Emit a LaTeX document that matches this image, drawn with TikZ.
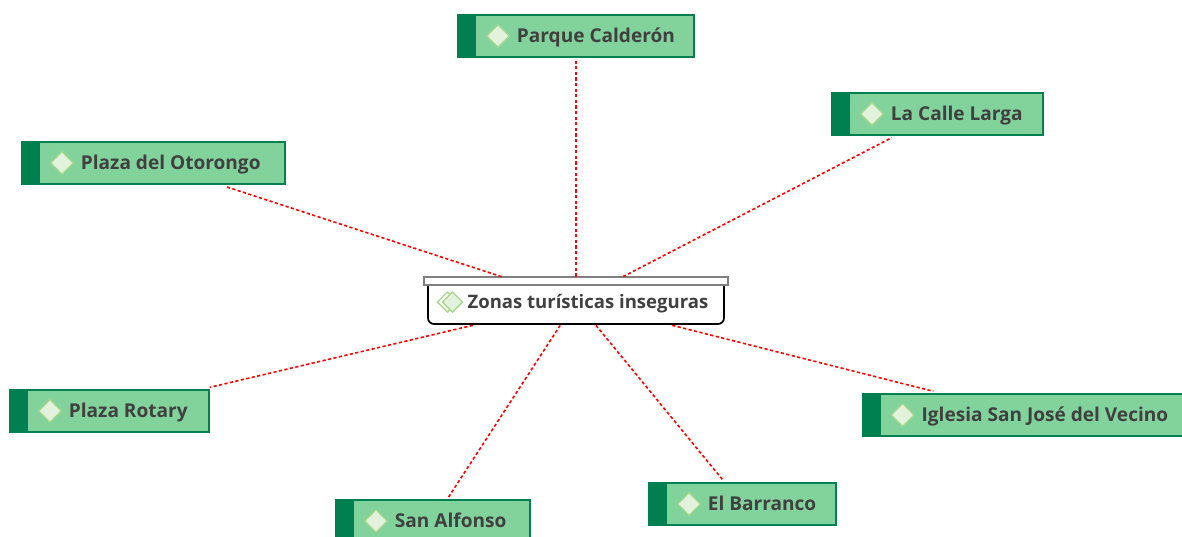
\documentclass[tikz,border=0pt]{standalone}
\usepackage{fontspec}
\setmainfont{Open Sans}
\usetikzlibrary{positioning, shapes.geometric}
\definecolor{topicfill}{RGB}{130,210,156}
\definecolor{topicdark}{RGB}{0,128,80}
\definecolor{markfill}{RGB}{226,242,220}
\definecolor{markline}{RGB}{168,214,140}
\definecolor{labeltext}{RGB}{64,64,64}
\tikzset{x=0.75pt, y=-0.75pt, node distance=46pt,
    topic/.style={draw=topicdark, line width=1.5pt, fill=topicfill, minimum height=31.5pt, inner sep=0pt, outer sep=2pt,
        path picture={\fill[topicdark] (path picture bounding box.north west) rectangle ([xshift=13.5pt]path picture bounding box.south west);
            \draw[markline, line width=0.9pt, fill=markfill] ([xshift=21.5pt]path picture bounding box.west) -- ([xshift=30pt,yshift=8.5pt]path picture bounding box.west) -- ([xshift=38.5pt]path picture bounding box.west) -- ([xshift=30pt,yshift=-8.5pt]path picture bounding box.west) -- cycle;}},
    toplabel/.style={inner sep=0pt, text=labeltext, text height=10.5pt, text depth=1.5pt, font=\fontsize{14.3}{16}\selectfont\bfseries},
    link/.style={draw=red, line width=1.2pt, dash pattern=on 2.4pt off 1.8pt}}

\begin{document}
\begin{tikzpicture}
    \useasboundingbox (0,0) rectangle (1182,536);
    \node[topic, minimum width=177pt] at (576,36) (n1) {};
    \node[topic, minimum width=158.25pt] at (937.5,114) (n2) {};
    \node[topic, minimum width=197.25pt] at (153.5,163) (n3) {};
    \node[topic, minimum width=149.25pt] at (109.5,411) (n4) {};
    \node[topic, minimum width=145.5pt] at (433,521) (n5) {};
    \node[topic, minimum width=140.25pt] at (742.5,504) (n6) {};
    \node[topic, minimum width=246.5pt] at (1027,415) (n7) {};

    \node[toplabel, right=of n1.west] (t1) {Parque Calderón};
    \node[toplabel, right=of n2.west] (t2) {La Calle Larga};
    \node[toplabel, right=of n3.west] (t3) {Plaza del Otorongo};
    \node[toplabel, right=of n4.west] (t4) {Plaza Rotary};
    \node[toplabel, right=of n5.west] (t5) {San Alfonso};
    \node[toplabel, right=of n6.west] (t6) {El Barranco};
    \node[toplabel, right=of n7.west] (t7) {Iglesia San José del Vecino};

    \node[draw=black, line width=1.3pt, fill=white, rounded corners=4.5pt, minimum width=222pt, minimum height=34.5pt, outer sep=1pt] at (576,301) (main) {};
    \node[draw=gray, line width=1.3pt, fill=white, minimum width=228pt, minimum height=6pt, inner sep=0pt] at (576,281) (mainbar) {};
    \node[diamond, draw=markline, fill=white, line width=1pt, minimum size=15.5pt, inner sep=0pt] at (447.5,302) (mark2) {};
    \node[diamond, draw=markline, fill=markfill, line width=1pt, minimum size=15.5pt, inner sep=0pt] at (452.5,302) (mark1) {};
    \node[toplabel, right=30.5pt of main.west, yshift=-0.75pt, font=\fontsize{13.9}{16}\selectfont\bfseries] (mainlabel) {Zonas turísticas inseguras};

    \draw[link] (main) -- (n1);
    \draw[link] (main) -- (n2);
    \draw[link] (main) -- (n3);
    \draw[link] (main) -- (n4);
    \draw[link] (main) -- (n5);
    \draw[link] (main) -- (n6);
    \draw[link] (main) -- (n7);
\end{tikzpicture}
\end{document}
